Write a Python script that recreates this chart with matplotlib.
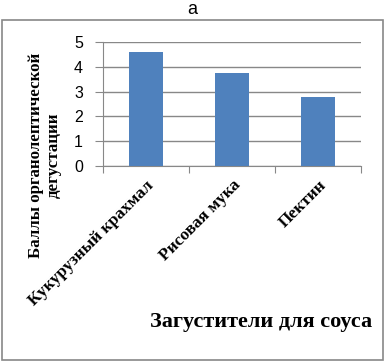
import matplotlib.pyplot as plt
from matplotlib.patches import Rectangle

categories = ['Кукурузный крахмал', 'Рисовая мука', 'Пектин']
scores = [4.6, 3.75, 2.8]

fig = plt.figure(figsize=(3.85, 3.62), dpi=100)
ax = fig.add_axes([0.268, 0.541, 0.67, 0.343])

ax.bar(range(len(categories)), scores, width=0.4, color='#4f81bd', zorder=3)
ax.set_xlim(-0.5, len(categories) - 0.5)
ax.set_ylim(0, 5)
ax.set_yticks(range(6))
ax.tick_params(axis='y', labelsize=11.5, length=6, color='#888888', pad=8.5)
for t in ax.get_yticklabels():
    t.set_family('Liberation Sans')
ax.grid(axis='y', color='#888888', linewidth=1, zorder=0)

ax.set_xticks([i - 0.5 for i in range(len(categories) + 1)])
ax.set_xticklabels([])
ax.set_xticks(range(len(categories)), minor=True)
ax.set_xticklabels(categories, minor=True, rotation=45, ha='right',
                   rotation_mode='anchor', family='Liberation Serif',
                   fontweight='bold', fontsize=12.5)
ax.tick_params(axis='x', which='major', length=5, color='#888888')
ax.tick_params(axis='x', which='minor', length=0, pad=8)

for s in ['top', 'right']:
    ax.spines[s].set_visible(False)
ax.spines['left'].set_color('#888888')
ax.spines['bottom'].set_color('#888888')

fig.text(0.5, 0.975, 'а', ha='center', va='center', fontsize=13,
         family='Liberation Sans')
fig.text(0.117, 0.572, 'Баллы органолептической\nдегустации', rotation=90,
         ha='center', va='center', family='Liberation Serif',
         fontweight='bold', fontsize=12.2, linespacing=1.1)
fig.text(0.966, 0.11, 'Загустители для соуса', ha='right', va='center',
         family='Liberation Serif', fontweight='bold', fontsize=16)

fig.patches.append(Rectangle((0.005, 0.005), 0.99, 0.94,
                             transform=fig.transFigure, fill=False,
                             edgecolor='#888888', linewidth=1.2))

fig.savefig('out.png', dpi=100)
